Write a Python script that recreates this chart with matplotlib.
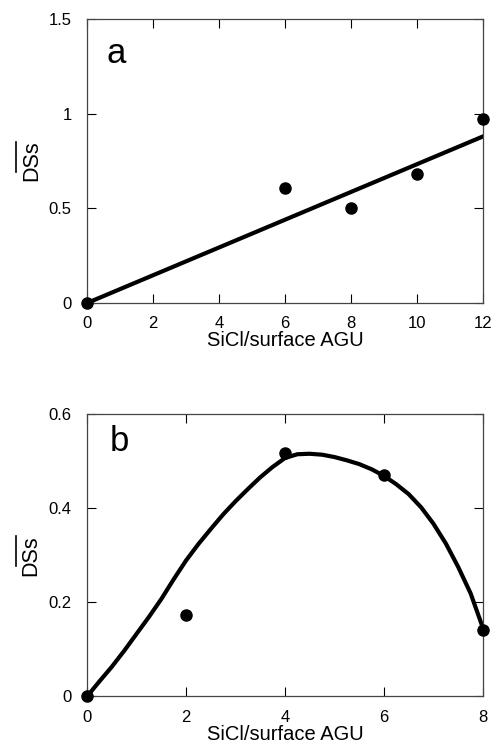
import matplotlib
matplotlib.use("Agg")
import matplotlib.pyplot as plt
from matplotlib.lines import Line2D

plt.rcParams['font.family'] = ['Liberation Sans', 'DejaVu Sans']

# Panel a data
a_x = [0, 6, 8, 10, 12]
a_y = [0.0, 0.61, 0.50, 0.68, 0.97]
a_fit_x = [0, 12]
a_fit_y = [0.0, 0.88]
a_xticks = [0, 2, 4, 6, 8, 10, 12]
a_yticks = [0, 0.5, 1, 1.5]
a_yticklabels = ['0', '0.5', '1', '1.5']

# Panel b data
b_x = [0, 2, 4, 6, 8]
b_y = [0.0, 0.173, 0.517, 0.471, 0.141]
b_curve_x = [0, 0.25, 0.5, 0.75, 1, 1.25, 1.5, 1.75, 2, 2.25, 2.5, 2.75, 3, 3.25,
             3.5, 3.75, 4, 4.25, 4.5, 4.75, 5, 5.25, 5.5, 5.75, 6, 6.25, 6.5,
             6.75, 7, 7.25, 7.5, 7.75, 8]
b_curve_y = [0.0, 0.032, 0.063, 0.097, 0.133, 0.169, 0.207, 0.249, 0.289, 0.324,
             0.356, 0.387, 0.415, 0.441, 0.466, 0.488, 0.507, 0.515, 0.516, 0.514,
             0.509, 0.502, 0.494, 0.483, 0.469, 0.451, 0.430, 0.402, 0.367, 0.325,
             0.275, 0.219, 0.145]
b_xticks = [0, 2, 4, 6, 8]
b_yticks = [0, 0.2, 0.4, 0.6]
b_yticklabels = ['0', '0.2', '0.4', '0.6']

xlabel = 'SiCl/surface AGU'
ylabel = 'DSs'

fig = plt.figure(figsize=(4.95, 7.46), dpi=100)
ax1 = fig.add_axes([0.1758, 0.5938, 0.800, 0.3807])
ax2 = fig.add_axes([0.1758, 0.0664, 0.800, 0.3783])


def style(ax, xticks, yticks, yticklabels, xmax, ymax):
    ax.set_xlim(0, xmax)
    ax.set_ylim(0, ymax)
    ax.set_xticks(xticks)
    ax.set_xticklabels([str(t) for t in xticks])
    ax.set_yticks(yticks)
    ax.set_yticklabels(yticklabels)
    ax.tick_params(direction='in', length=6.3, width=0.8, top=True, right=True,
                   labelsize=12, colors='black')
    ax.tick_params(axis='x', pad=9.5)
    ax.tick_params(axis='y', pad=11)
    for s in ax.spines.values():
        s.set_linewidth(0.9)
        s.set_color('#444444')
    ax.set_xlabel(xlabel, fontsize=14.5, labelpad=0)
    ax.set_ylabel(ylabel, fontsize=15.5, labelpad=5)


ax1.plot(a_fit_x, a_fit_y, color='black', lw=3)
ax1.plot(a_x, a_y, 'o', color='black', ms=8, clip_on=False, zorder=5)
style(ax1, a_xticks, a_yticks, a_yticklabels, 12, 1.5)
ax1.text(0.048, 0.877, 'a', transform=ax1.transAxes, fontsize=25, va='center')

ax2.plot(b_curve_x, b_curve_y, color='black', lw=3, solid_joinstyle='round')
ax2.plot(b_x, b_y, 'o', color='black', ms=8, clip_on=False, zorder=5)
style(ax2, b_xticks, b_yticks, b_yticklabels, 8, 0.6)
ax2.text(0.058, 0.902, 'b', transform=ax2.transAxes, fontsize=25, va='center')

# overline above the rotated DSs labels
fig.canvas.draw()
renderer = fig.canvas.get_renderer()
W, H = fig.get_size_inches() * fig.dpi
for ax in (ax1, ax2):
    bb = ax.yaxis.label.get_window_extent(renderer)
    xline = (bb.x0 - 5) / W
    fig.add_artist(Line2D([xline, xline], [(bb.y1 - 31) / H, (bb.y1 - 1) / H],
                          transform=fig.transFigure, color='black', lw=1.2))

fig.savefig('out.png', dpi=100)
